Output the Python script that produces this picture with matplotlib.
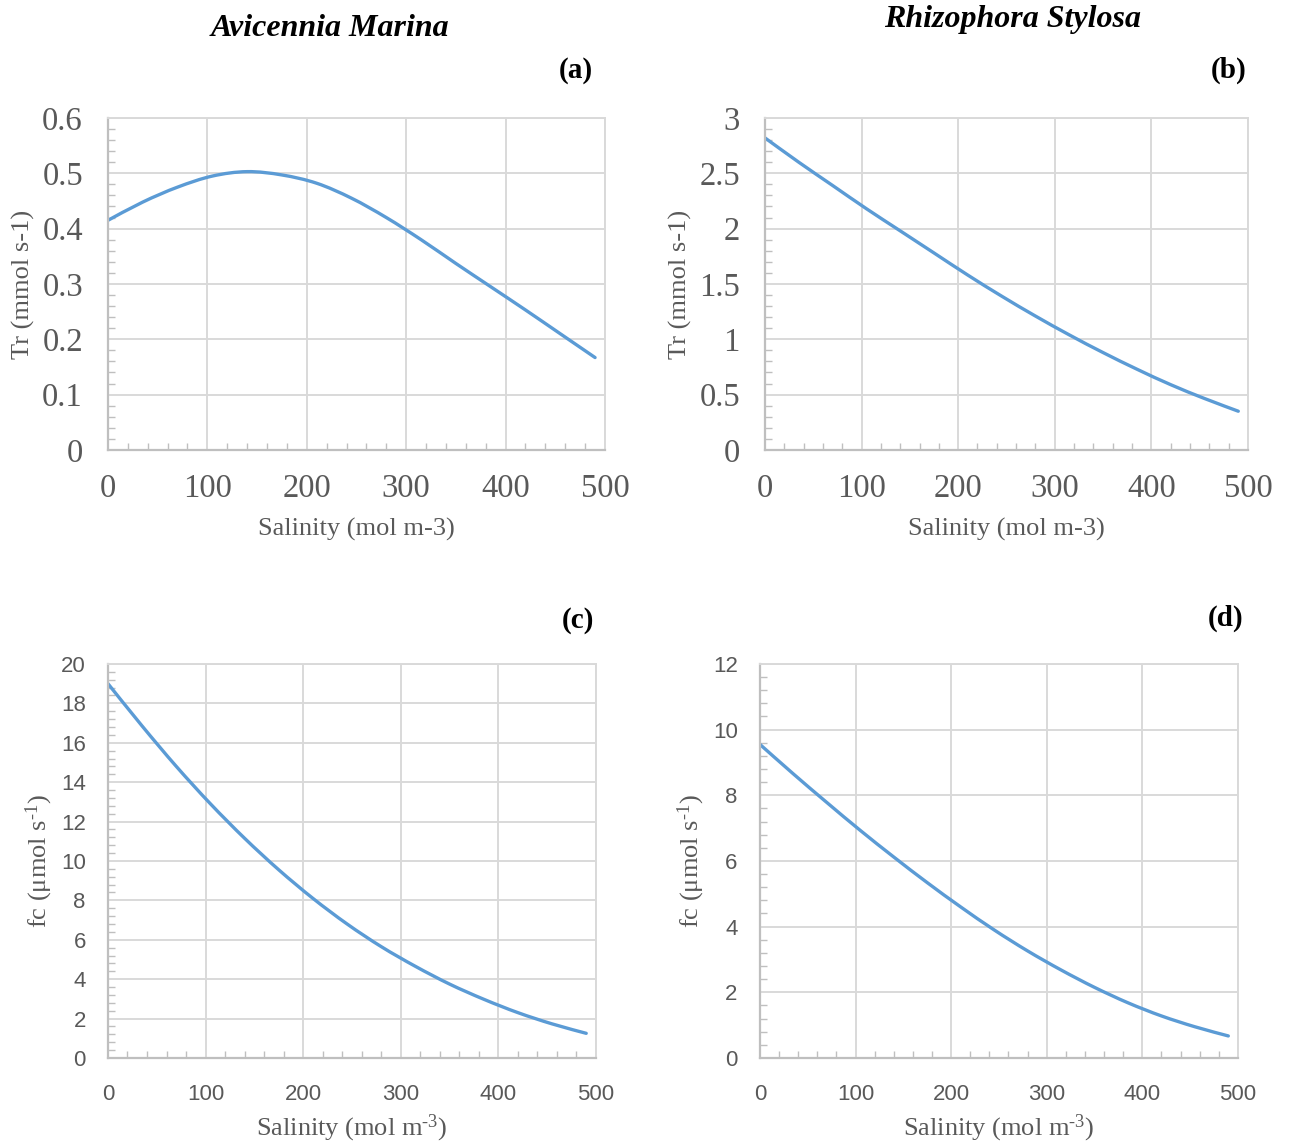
import matplotlib.pyplot as plt
from matplotlib.ticker import MultipleLocator
from matplotlib.path import Path
from matplotlib.patches import PathPatch

plt.rcParams['mathtext.fontset'] = 'custom'
plt.rcParams['mathtext.rm'] = 'Liberation Serif'
plt.rcParams['mathtext.default'] = 'rm'

# data
salinity = [0, 35, 70, 105, 140, 175, 210, 245, 280, 315, 350, 385, 420, 455, 490]
tr_avicennia = [0.415, 0.448, 0.475, 0.495, 0.503, 0.497, 0.482, 0.455, 0.42, 0.38,
                0.337, 0.295, 0.253, 0.21, 0.167]
tr_rhizophora = [2.82, 2.60, 2.39, 2.18, 1.98, 1.78, 1.58, 1.39, 1.21, 1.04,
                 0.88, 0.73, 0.59, 0.465, 0.35]
fc_avicennia = [19.0, 16.85, 14.8, 12.9, 11.15, 9.55, 8.1, 6.8, 5.65, 4.65,
                3.75, 2.98, 2.3, 1.73, 1.25]
fc_rhizophora = [9.55, 8.65, 7.78, 6.93, 6.12, 5.34, 4.6, 3.9, 3.26, 2.68,
                 2.15, 1.68, 1.28, 0.95, 0.67]

line_col = '#5B9BD5'
grid_col = '#D9D9D9'
axis_col = '#BFBFBF'
text_col = '#595959'


def smooth_line(ax, xs, ys, **kw):
    # Excel-like "smoothed line": bezier segments through the data points
    verts = [(xs[0], ys[0])]
    codes = [Path.MOVETO]
    n = len(xs)
    for i in range(n - 1):
        x0, y0 = (xs[i - 1], ys[i - 1]) if i > 0 else (xs[i], ys[i])
        x1, y1 = xs[i], ys[i]
        x2, y2 = xs[i + 1], ys[i + 1]
        x3, y3 = (xs[i + 2], ys[i + 2]) if i + 2 < n else (x2, y2)
        verts += [(x1 + (x2 - x0) / 6, y1 + (y2 - y0) / 6),
                  (x2 - (x3 - x1) / 6, y2 - (y3 - y1) / 6),
                  (x2, y2)]
        codes += [Path.CURVE4] * 3
    ax.add_patch(PathPatch(Path(verts, codes), fill=False, **kw))


fig = plt.figure(figsize=(12.9, 11.42), dpi=100)

sal_serif = 'Salinity (mol m-3)'
sal_sup = r'Salinity (mol m$^{\text{-3}}$)'
fc_lab = r'fc (μmol s$^{\text{-1}}$)'

panels = [
    # rect, y data, ymax, ystep, yminor, ylabel, xlabel, tick font, tick size
    ([0.0837, 0.6060, 0.3853, 0.2907], tr_avicennia, 0.6, 0.1, 0.02,
     'Tr (mmol s-1)', sal_serif, 'Liberation Serif', 23.5),
    ([0.5930, 0.6060, 0.3744, 0.2907], tr_rhizophora, 3, 0.5, 0.1,
     'Tr (mmol s-1)', sal_serif, 'Liberation Serif', 23.5),
    ([0.0837, 0.0736, 0.3783, 0.3450], fc_avicennia, 20, 2, 0.4,
     fc_lab, sal_sup, 'Liberation Sans', 16),
    ([0.5891, 0.0736, 0.3705, 0.3450], fc_rhizophora, 12, 2, 0.4,
     fc_lab, sal_sup, 'Liberation Sans', 16),
]

for rect, ydata, ymax, ystep, yminor, ylab, xlab, tfont, tsize in panels:
    ax = fig.add_axes(rect)
    smooth_line(ax, salinity, ydata, color=line_col, lw=2.4, capstyle='round')
    ax.set_xlim(0, 500)
    ax.set_ylim(0, ymax)
    ax.xaxis.set_major_locator(MultipleLocator(100))
    ax.xaxis.set_minor_locator(MultipleLocator(20))
    ax.yaxis.set_major_locator(MultipleLocator(ystep))
    ax.yaxis.set_minor_locator(MultipleLocator(yminor))
    ax.grid(True, which='major', color=grid_col, lw=1.4)
    ax.set_axisbelow(True)
    for s in ['top', 'right']:
        ax.spines[s].set_color(grid_col)
        ax.spines[s].set_linewidth(1.4)
    for s in ['left', 'bottom']:
        ax.spines[s].set_color(axis_col)
        ax.spines[s].set_linewidth(1.6)
    big = tsize > 20
    ax.tick_params(which='major', length=0, labelsize=tsize, labelcolor=text_col)
    ax.tick_params(axis='x', which='major', pad=17 if big else 19)
    ax.tick_params(axis='y', which='major', pad=18 if big else 16)
    ax.tick_params(which='minor', direction='in', length=5, width=1, color=axis_col)
    for lab in ax.get_xticklabels() + ax.get_yticklabels():
        lab.set_family(tfont)
    if big:
        ax.yaxis.set_major_formatter(lambda v, p: '0' if v == 0 else f'{v:g}')
    ax.set_xlabel(xlab, family='Liberation Serif', fontsize=19, color=text_col,
                  labelpad=10 if big else 5)
    ax.set_ylabel(ylab, family='Liberation Serif', fontsize=19, color=text_col,
                  labelpad=5 if big else 4)

title_kw = dict(family='Liberation Serif', weight='bold', style='italic',
                fontsize=23, ha='center', va='center')
fig.text(330 / 1290, 1 - 28 / 1142, 'Avicennia Marina', **title_kw)
fig.text(1013 / 1290, 1 - 20 / 1142, 'Rhizophora Stylosa', **title_kw)

tag_kw = dict(family='Liberation Serif', weight='bold', fontsize=21,
              ha='center', va='center')
fig.text(576 / 1290, 1 - 70 / 1142, '(a)', **tag_kw)
fig.text(1229 / 1290, 1 - 70 / 1142, '(b)', **tag_kw)
fig.text(578 / 1290, 1 - 620 / 1142, '(c)', **tag_kw)
fig.text(1226 / 1290, 1 - 618 / 1142, '(d)', **tag_kw)

fig.savefig('out.png', dpi=100, facecolor='white')
